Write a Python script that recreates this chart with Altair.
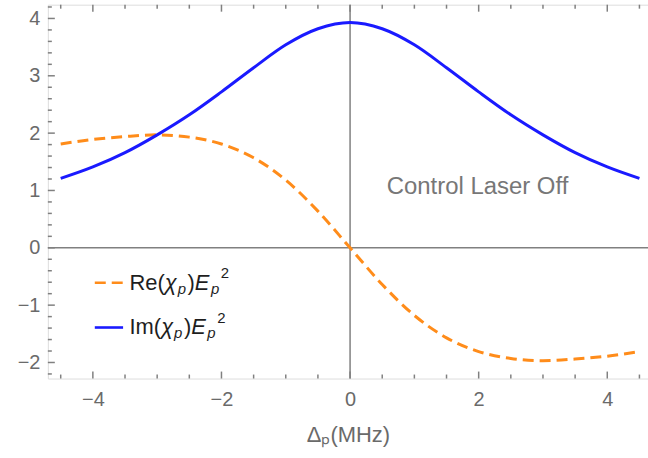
import altair as alt
import pandas as pd

# ---- data ----
x_vals = [-4.5, -4.0, -3.5, -3.0, -2.5, -2.0, -1.5, -1.0, -0.5, 0.0,
          0.5, 1.0, 1.5, 2.0, 2.5, 3.0, 3.5, 4.0, 4.5]
re_vals = [1.81, 1.89, 1.94, 1.97, 1.93, 1.81, 1.57, 1.18, 0.64, 0.0,
           -0.64, -1.18, -1.57, -1.81, -1.93, -1.97, -1.94, -1.89, -1.81]
im_vals = [1.21, 1.41, 1.66, 1.97, 2.32, 2.72, 3.14, 3.54, 3.82, 3.93,
           3.82, 3.54, 3.14, 2.72, 2.32, 1.97, 1.66, 1.41, 1.21]

x_major = [-4, -2, 0, 2, 4]
x_minor = [-4.5, -3.5, -3, -2.5, -1.5, -1, -0.5, 0.5, 1, 1.5, 2.5, 3, 3.5, 4.5]
y_major = [-2, -1, 0, 1, 2, 3, 4]
y_minor = [-2.2, -1.8, -1.6, -1.4, -1.2, -0.8, -0.6, -0.4, -0.2,
           0.2, 0.4, 0.6, 0.8, 1.2, 1.4, 1.6, 1.8, 2.2, 2.4, 2.6, 2.8,
           3.2, 3.4, 3.6, 3.8, 4.2]

# legend label pieces: (text, style, size-kind)
re_label = [("Re(", "normal", "n"), ("χ", "italic", "n"), ("p", "italic", "sub"),
            (")", "normal", "n"), ("E", "italic", "n"), ("p", "italic", "sub"),
            ("2", "normal", "sup")]
im_label = [("Im(", "normal", "n"), ("χ", "italic", "n"), ("p", "italic", "sub"),
            (")", "normal", "n"), ("E", "italic", "n"), ("p", "italic", "sub"),
            ("2", "normal", "sup")]
annotation = "Control Laser Off"
x_title = "Δₚ(MHz)"

W, H = 602, 375
FONT = "Liberation Sans"
GRAY = "#808080"
ORANGE = "#FF8C1A"
BLUE = "#1A1AFF"
LBL = "#6a6a6a"

xs = alt.Scale(domain=[-4.7, -4.7 + W / 64.5], nice=False, zero=False)
ys = alt.Scale(domain=[-2.28, 4.24], nice=False, zero=False)

df_re = pd.DataFrame({"x": x_vals, "y": re_vals})
df_im = pd.DataFrame({"x": x_vals, "y": im_vals})

re_line = alt.Chart(df_re).mark_line(
    color=ORANGE, strokeWidth=3, strokeDash=[11, 6], interpolate="monotone"
).encode(
    x=alt.X("x:Q", scale=xs, axis=alt.Axis(
        values=x_major, format="d", title=x_title, domain=False, ticks=False, grid=False,
        labelFont=FONT, labelFontSize=20, labelColor=LBL, labelPadding=11,
        titleFont=FONT, titleFontSize=22, titleFontWeight="normal",
        titleColor=LBL, titlePadding=15)),
    y=alt.Y("y:Q", scale=ys, axis=alt.Axis(
        values=y_major, format="d", title=None, domain=False, ticks=False, grid=False,
        labelFont=FONT, labelFontSize=20, labelColor=LBL, labelPadding=8)),
)

im_line = alt.Chart(df_im).mark_line(
    color=BLUE, strokeWidth=3, interpolate="monotone"
).encode(x=alt.X("x:Q", scale=xs), y=alt.Y("y:Q", scale=ys))

zero_v = alt.Chart(pd.DataFrame({"x": [0]})).mark_rule(
    color=GRAY, strokeWidth=1.5).encode(
    x=alt.X("x:Q", scale=xs), y=alt.value(0), y2=alt.value(H))
zero_h = alt.Chart(pd.DataFrame({"y": [0]})).mark_rule(
    color=GRAY, strokeWidth=1.5).encode(
    y=alt.Y("y:Q", scale=ys), x=alt.value(0), x2=alt.value(W))

def xticks(vals, length):
    d = pd.DataFrame({"x": vals})
    bottom = alt.Chart(d).mark_rule(color=GRAY, strokeWidth=1.5).encode(
        x=alt.X("x:Q", scale=xs), y=alt.value(H), y2=alt.value(H - length))
    top = alt.Chart(d).mark_rule(color=GRAY, strokeWidth=1.5).encode(
        x=alt.X("x:Q", scale=xs), y=alt.value(0), y2=alt.value(length))
    return bottom + top

def yticks(vals, length):
    d = pd.DataFrame({"y": vals})
    return alt.Chart(d).mark_rule(color=GRAY, strokeWidth=1.5).encode(
        y=alt.Y("y:Q", scale=ys), x=alt.value(0), x2=alt.value(length))

ticks = xticks(x_major, 7) + xticks(x_minor, 4) + yticks(y_major, 7) + yticks(y_minor, 4)

# legend samples
leg_re = alt.Chart(pd.DataFrame({"x": [-3.97], "x2": [-3.53], "y": [-0.61]})).mark_rule(
    color=ORANGE, strokeWidth=2.6, strokeDash=[11, 6]).encode(
    x=alt.X("x:Q", scale=xs), x2="x2:Q", y=alt.Y("y:Q", scale=ys))
leg_im = alt.Chart(pd.DataFrame({"x": [-3.97], "x2": [-3.53], "y": [-1.39]})).mark_rule(
    color=BLUE, strokeWidth=2.6).encode(
    x=alt.X("x:Q", scale=xs), x2="x2:Q", y=alt.Y("y:Q", scale=ys))

# legend labels built from pieces (subscripts / superscripts)
WID = {"R": .722, "e": .556, "(": .333, ")": .333, "χ": .52, "p": .556, "E": .667,
       "2": .556, "I": .278, "m": .833}
NS, SS = 22, 15

def label_layers(pieces, yv):
    layers = []
    off = 0.0
    for txt, style, kind in pieces:
        size = NS if kind == "n" else SS
        dy = 0 if kind == "n" else (6 if kind == "sub" else -10)
        layers.append(
            alt.Chart(pd.DataFrame({"x": [-3.43], "y": [yv], "t": [txt]})).mark_text(
                align="left", baseline="middle", font=FONT, fontSize=size,
                fontStyle=style, color="#1e1e1e", dx=off, dy=dy).encode(
                x=alt.X("x:Q", scale=xs), y=alt.Y("y:Q", scale=ys), text="t:N"))
        off += sum(WID.get(c, .556) for c in txt) * size + (1.5 if style == "italic" else 0)
    return layers

leg_text = label_layers(re_label, -0.61) + label_layers(im_label, -1.39)

ann = alt.Chart(pd.DataFrame({"x": [0.57], "y": [1.06], "t": [annotation]})).mark_text(
    align="left", baseline="middle", font=FONT, fontSize=24, color="#777777").encode(
    x=alt.X("x:Q", scale=xs), y=alt.Y("y:Q", scale=ys), text="t:N")

chart = alt.layer(
    zero_v, zero_h, ticks, re_line, im_line, leg_re, leg_im, *leg_text, ann
).properties(
    width=W, height=H,
    autosize=alt.AutoSizeParams(type="none"),
    padding={"left": 48, "top": 4, "right": 0, "bottom": 79},
).configure_view(stroke="#8c8c8c", strokeWidth=1.5).configure(background="white")

chart.save("out.html", embed_options={"renderer": "svg", "actions": False})
